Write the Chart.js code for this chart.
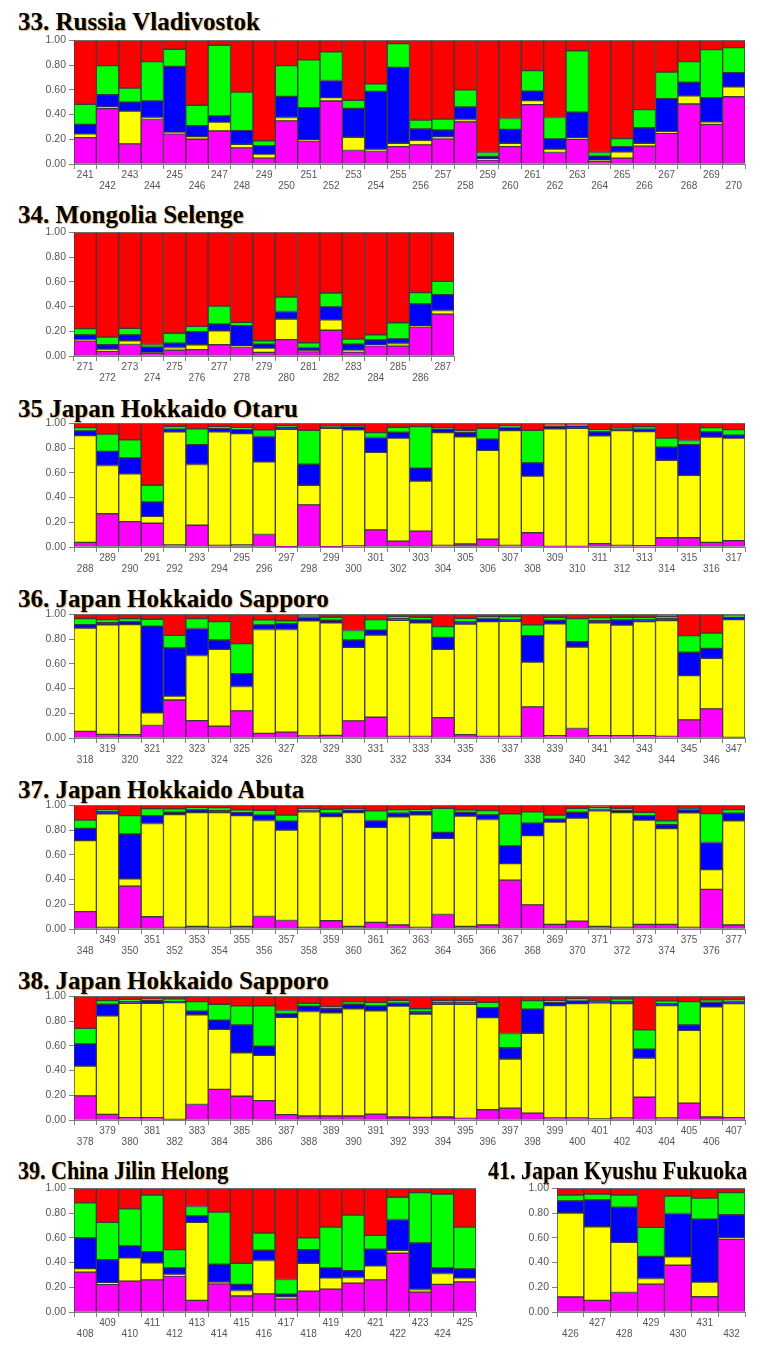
<!DOCTYPE html>
<html>
<head>
<meta charset="utf-8">
<script src="https://cdn.jsdelivr.net/npm/chart.js@4.4.1/dist/chart.umd.min.js"></script>
<style>
  html, body { margin: 0; padding: 0; background: #fff; }
  #page { position: relative; width: 774px; height: 1348px; overflow: hidden; background: #fff; }
  .title {
    position: absolute; white-space: nowrap; line-height: 1;
    font-family: 'Liberation Serif', 'Times New Roman', serif; font-weight: bold; font-size: 25px;
    color: #000; text-shadow: 1px 1px 1px rgba(190, 110, 20, 0.55);
    transform-origin: 0 0;
  }
  .title.narrow { font-size: 25px; transform: scaleX(0.88); }
  canvas { position: absolute; }
</style>
</head>
<body>
<div id="page"></div>
<script>
/* ---------- Data: cluster upper bounds per individual (red fills to 1.00) ---------- */
var TICKS_Y = [0, 0.2, 0.4, 0.6, 0.8, 1];

var p33Ids = [241,242,243,244,245,246,247,248,249,250,251,252,253,254,255,256,257,258,259,260,261,262,263,264,265,266,267,268,269,270];
var p33Magenta = [0.213,0.448,0.163,0.36,0.243,0.20,0.267,0.131,0.048,0.349,0.187,0.509,0.109,0.101,0.141,0.155,0.203,0.341,0.032,0.141,0.48,0.093,0.20,0.021,0.048,0.144,0.248,0.485,0.32,0.544];
var p33YellowTop = [0.243,0.461,0.427,0.376,0.256,0.221,0.339,0.16,0.08,0.376,0.195,0.536,0.216,0.117,0.168,0.192,0.219,0.36,0.04,0.168,0.512,0.12,0.213,0.029,0.099,0.168,0.264,0.552,0.341,0.624];
var p33BlueTop = [0.32,0.56,0.50,0.509,0.789,0.31,0.389,0.27,0.149,0.547,0.456,0.675,0.45,0.587,0.781,0.283,0.275,0.461,0.061,0.28,0.589,0.203,0.419,0.064,0.141,0.293,0.528,0.661,0.536,0.739];
var p33GreenTop = [0.483,0.795,0.613,0.827,0.928,0.475,0.96,0.581,0.187,0.795,0.843,0.907,0.515,0.648,0.973,0.355,0.363,0.60,0.093,0.368,0.755,0.376,0.915,0.093,0.205,0.44,0.744,0.827,0.925,0.941];

var p34Ids = [271,272,273,274,275,276,277,278,279,280,281,282,283,284,285,286,287];
var p34Magenta = [0.123,0.037,0.093,0.021,0.048,0.051,0.091,0.069,0.029,0.133,0.035,0.208,0.032,0.083,0.08,0.235,0.339];
var p34YellowTop = [0.133,0.056,0.123,0.027,0.069,0.091,0.203,0.08,0.064,0.299,0.043,0.293,0.048,0.088,0.101,0.24,0.368];
var p34BlueTop = [0.171,0.091,0.171,0.072,0.104,0.197,0.259,0.245,0.096,0.36,0.069,0.397,0.096,0.131,0.139,0.421,0.496];
var p34GreenTop = [0.221,0.152,0.224,0.093,0.184,0.24,0.403,0.272,0.123,0.477,0.107,0.509,0.136,0.171,0.269,0.512,0.603];

var p35Ids = [288,289,290,291,292,293,294,295,296,297,298,299,300,301,302,303,304,305,306,307,308,309,310,311,312,313,314,315,316,317];
var p35Magenta = [0.037,0.269,0.205,0.192,0.016,0.176,0.013,0.016,0.101,0.003,0.341,0.003,0.008,0.139,0.048,0.128,0.013,0.024,0.064,0.013,0.115,0.005,0.005,0.027,0.013,0.011,0.075,0.075,0.037,0.051];
var p35YellowTop = [0.901,0.659,0.592,0.248,0.931,0.667,0.931,0.917,0.688,0.952,0.499,0.96,0.947,0.765,0.88,0.533,0.925,0.891,0.781,0.941,0.573,0.955,0.96,0.899,0.941,0.933,0.701,0.579,0.888,0.88];
var p35BlueTop = [0.939,0.773,0.72,0.365,0.952,0.827,0.957,0.952,0.893,0.971,0.669,0.973,0.973,0.885,0.928,0.637,0.955,0.925,0.872,0.965,0.68,0.976,0.979,0.931,0.957,0.952,0.808,0.827,0.931,0.904];
var p35GreenTop = [0.965,0.912,0.867,0.499,0.976,0.955,0.976,0.965,0.947,0.979,0.944,0.981,0.979,0.925,0.968,0.973,0.965,0.944,0.96,0.976,0.944,0.984,0.984,0.949,0.965,0.973,0.88,0.861,0.965,0.949];

var p36Ids = [318,319,320,321,322,323,324,325,326,327,328,329,330,331,332,333,334,335,336,337,338,339,340,341,342,343,344,345,346,347];
var p36Magenta = [0.053,0.029,0.027,0.101,0.307,0.141,0.096,0.219,0.037,0.048,0.016,0.021,0.139,0.168,0.013,0.013,0.165,0.027,0.013,0.013,0.251,0.019,0.077,0.019,0.019,0.019,0.013,0.147,0.235,0.005];
var p36YellowTop = [0.888,0.915,0.917,0.203,0.339,0.667,0.717,0.416,0.877,0.877,0.947,0.931,0.733,0.832,0.952,0.931,0.717,0.92,0.941,0.944,0.613,0.923,0.736,0.931,0.912,0.941,0.949,0.504,0.645,0.957];
var p36BlueTop = [0.917,0.933,0.941,0.904,0.728,0.885,0.792,0.52,0.915,0.925,0.973,0.952,0.792,0.872,0.968,0.955,0.813,0.939,0.963,0.957,0.827,0.952,0.779,0.949,0.955,0.957,0.965,0.693,0.725,0.976];
var p36GreenTop = [0.965,0.957,0.965,0.96,0.829,0.965,0.941,0.763,0.955,0.947,0.984,0.976,0.869,0.957,0.981,0.976,0.901,0.968,0.981,0.981,0.915,0.976,0.965,0.973,0.976,0.976,0.984,0.827,0.848,0.984];

var p37Ids = [348,349,350,351,352,353,354,355,356,357,358,359,360,361,362,363,364,365,366,367,368,369,370,371,372,373,374,375,376,377];
var p37Magenta = [0.141,0.013,0.347,0.099,0.013,0.021,0.013,0.021,0.101,0.069,0.013,0.067,0.021,0.053,0.032,0.013,0.117,0.021,0.032,0.395,0.195,0.037,0.064,0.021,0.013,0.037,0.037,0.013,0.32,0.032];
var p37YellowTop = [0.715,0.931,0.405,0.853,0.925,0.941,0.941,0.917,0.877,0.80,0.947,0.909,0.941,0.821,0.907,0.923,0.733,0.912,0.885,0.528,0.755,0.864,0.896,0.955,0.941,0.88,0.811,0.939,0.48,0.875];
var p37BlueTop = [0.813,0.949,0.768,0.917,0.944,0.963,0.957,0.941,0.92,0.872,0.96,0.936,0.963,0.877,0.936,0.949,0.781,0.944,0.923,0.672,0.856,0.888,0.944,0.968,0.96,0.917,0.843,0.965,0.699,0.936];
var p37GreenTop = [0.88,0.963,0.917,0.973,0.971,0.981,0.981,0.963,0.96,0.92,0.973,0.968,0.971,0.955,0.965,0.965,0.976,0.963,0.957,0.931,0.947,0.92,0.976,0.984,0.976,0.944,0.875,0.973,0.933,0.965];

var p38Ids = [378,379,380,381,382,383,384,385,386,387,388,389,390,391,392,393,394,395,396,397,398,399,400,401,402,403,404,405,406,407];
var p38Magenta = [0.195,0.045,0.019,0.019,0.005,0.125,0.248,0.192,0.157,0.043,0.032,0.032,0.032,0.048,0.024,0.021,0.024,0.013,0.083,0.096,0.056,0.016,0.016,0.008,0.016,0.184,0.016,0.136,0.024,0.019];
var p38YellowTop = [0.435,0.843,0.944,0.944,0.949,0.851,0.733,0.544,0.523,0.829,0.877,0.867,0.899,0.883,0.92,0.856,0.936,0.936,0.827,0.493,0.701,0.925,0.941,0.947,0.941,0.501,0.925,0.725,0.915,0.941];
var p38BlueTop = [0.616,0.936,0.96,0.968,0.957,0.88,0.808,0.768,0.597,0.859,0.92,0.899,0.936,0.923,0.944,0.875,0.952,0.952,0.909,0.584,0.896,0.949,0.963,0.96,0.957,0.573,0.941,0.768,0.952,0.957];
var p38GreenTop = [0.741,0.965,0.971,0.976,0.979,0.957,0.936,0.923,0.923,0.885,0.944,0.917,0.957,0.952,0.968,0.899,0.968,0.968,0.952,0.699,0.965,0.965,0.979,0.963,0.979,0.728,0.963,0.957,0.971,0.968];

var p39Ids = [408,409,410,411,412,413,414,415,416,417,418,419,420,421,422,423,424,425];
var p39Magenta = [0.322,0.223,0.249,0.26,0.29,0.094,0.228,0.129,0.147,0.107,0.169,0.185,0.233,0.26,0.475,0.161,0.223,0.244];
var p39YellowTop = [0.351,0.236,0.437,0.397,0.303,0.724,0.241,0.174,0.416,0.121,0.394,0.276,0.279,0.373,0.499,0.182,0.311,0.276];
var p39BlueTop = [0.60,0.424,0.534,0.488,0.357,0.777,0.386,0.223,0.499,0.145,0.504,0.357,0.335,0.507,0.748,0.558,0.357,0.349];
var p39GreenTop = [0.882,0.724,0.834,0.946,0.504,0.853,0.807,0.394,0.638,0.263,0.60,0.686,0.783,0.619,0.928,0.965,0.954,0.686];

var p41Ids = [426,427,428,429,430,431,432];
var p41Magenta = [0.121,0.094,0.158,0.225,0.378,0.123,0.59];
var p41YellowTop = [0.80,0.689,0.563,0.271,0.445,0.241,0.603];
var p41BlueTop = [0.898,0.906,0.847,0.45,0.796,0.751,0.786];
var p41GreenTop = [0.946,0.954,0.946,0.684,0.938,0.92,0.965];

/* ---------- Colours ---------- */
var C_MAGENTA = '#ff00ff', C_YELLOW = '#ffff00', C_BLUE = '#0000ff', C_GREEN = '#00ff00', C_RED = '#ff0000';
var EDGE = '#3a3a3a';
var AXIS = '#808080';
var TEXT = '#555555';

var page = document.getElementById('page');

function addTitle(text, left, top, narrow) {
  var d = document.createElement('div');
  d.className = narrow ? 'title narrow' : 'title';
  d.textContent = text;
  d.style.left = left + 'px';
  d.style.top = top + 'px';
  page.appendChild(d);
}

// plotLeft/plotRight/plotTop are the chart-area edges in page pixels
function addPanel(ids, mag, yel, blu, gre, plotLeft, plotRight, plotTop) {
  var yW = 50, padTop = 8, padRight = 14, xH = 30, plotH = 125;
  var cv = document.createElement('canvas');
  var w = yW + (plotRight - plotLeft) + padRight;
  var h = padTop + plotH + xH;
  cv.width = w; cv.height = h;
  cv.style.width = w + 'px'; cv.style.height = h + 'px';
  cv.style.left = (plotLeft - yW) + 'px';
  cv.style.top = (plotTop - padTop) + 'px';
  page.appendChild(cv);

  function seg(lo, hi, color) {
    return {
      data: ids.map(function (_, i) { return [lo ? lo[i] : 0, hi ? hi[i] : 1]; }),
      backgroundColor: color,
      borderColor: EDGE,
      borderWidth: 1,
      borderSkipped: false,
      grouped: false,
      barPercentage: 1,
      categoryPercentage: 1
    };
  }

  new Chart(cv.getContext('2d'), {
    type: 'bar',
    data: {
      labels: ids.map(String),
      datasets: [
        seg(null, mag, C_MAGENTA),
        seg(mag, yel, C_YELLOW),
        seg(yel, blu, C_BLUE),
        seg(blu, gre, C_GREEN),
        seg(gre, null, C_RED)
      ]
    },
    options: {
      responsive: false,
      animation: false,
      events: [],
      layout: { padding: { top: padTop, right: padRight, left: 0, bottom: 0 } },
      plugins: { legend: { display: false }, tooltip: { enabled: false } },
      scales: {
        x: {
          grid: { drawOnChartArea: false, drawTicks: true, tickLength: 5, color: AXIS },
          border: { display: true, color: AXIS },
          ticks: {
            autoSkip: false, maxRotation: 0, minRotation: 0, padding: 1,
            color: TEXT, font: { family: "'Liberation Sans', Arial, sans-serif", size: 10, lineHeight: 1.1 },
            callback: function (v, i) {
              var id = ids[i];
              return id % 2 ? [String(id)] : ['', String(id)];
            }
          },
          afterFit: function (s) { s.height = xH; }
        },
        y: {
          min: 0, max: 1,
          afterBuildTicks: function (s) { s.ticks = TICKS_Y.map(function (v) { return { value: v }; }); },
          grid: { drawOnChartArea: false, drawTicks: true, tickLength: 5, color: AXIS },
          border: { display: true, color: AXIS },
          ticks: {
            padding: 3, color: TEXT,
            font: { family: "'Liberation Sans', Arial, sans-serif", size: 10.5 },
            callback: function (v) { return Number(v).toFixed(2); }
          },
          afterFit: function (s) { s.width = yW; }
        }
      }
    }
  });
}

addTitle('33. Russia Vladivostok', 18, 9);
addPanel(p33Ids, p33Magenta, p33YellowTop, p33BlueTop, p33GreenTop, 74, 745, 39);

addTitle('34. Mongolia Selenge', 18, 202);
addPanel(p34Ids, p34Magenta, p34YellowTop, p34BlueTop, p34GreenTop, 74, 454, 231);

addTitle('35 Japan Hokkaido Otaru', 18, 396);
addPanel(p35Ids, p35Magenta, p35YellowTop, p35BlueTop, p35GreenTop, 74, 745, 422);

addTitle('36. Japan Hokkaido Sapporo', 18, 586);
addPanel(p36Ids, p36Magenta, p36YellowTop, p36BlueTop, p36GreenTop, 74, 745, 613);

addTitle('37. Japan Hokkaido Abuta', 18, 777);
addPanel(p37Ids, p37Magenta, p37YellowTop, p37BlueTop, p37GreenTop, 74, 745, 804);

addTitle('38. Japan Hokkaido Sapporo', 18, 968);
addPanel(p38Ids, p38Magenta, p38YellowTop, p38BlueTop, p38GreenTop, 74, 745, 995);

addTitle('39. China Jilin Helong', 18, 1158, true);
addPanel(p39Ids, p39Magenta, p39YellowTop, p39BlueTop, p39GreenTop, 74, 476, 1187);

addTitle('41. Japan Kyushu Fukuoka', 488, 1158, true);
addPanel(p41Ids, p41Magenta, p41YellowTop, p41BlueTop, p41GreenTop, 557, 745, 1187);
</script>
</body>
</html>
